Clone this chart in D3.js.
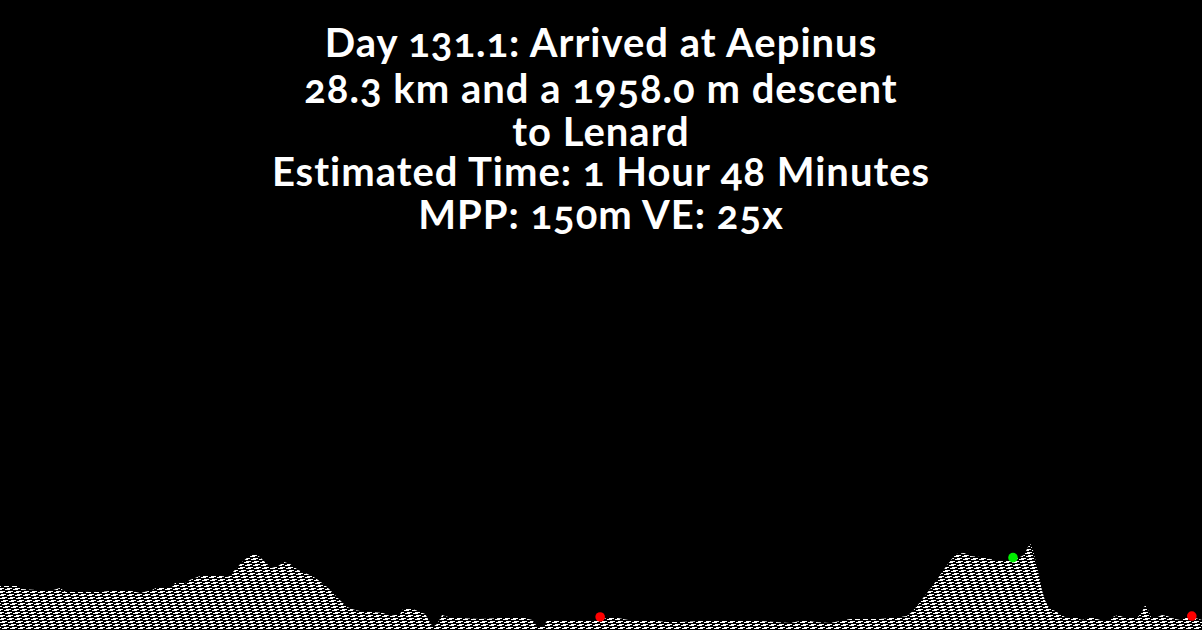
<!DOCTYPE html>
<html>
<head>
<meta charset="utf-8">
<script src="https://cdn.jsdelivr.net/npm/d3@7/dist/d3.min.js"></script>
<style>
  html, body { margin: 0; padding: 0; background: #000; }
  svg { display: block; }
  .title { font-family: "Lato", "Open Sans", sans-serif; font-weight: 700; fill: #fff; font-size: 40px; letter-spacing: 1px; font-feature-settings: "onum" 1; }
</style>
</head>
<body>
<svg id="chart" width="1202" height="630"></svg>
<script>
// ---- data ----
const titleLines = [
  "Day 131.1: Arrived at Aepinus",
  "28.3 km and a 1958.0 m descent",
  "to Lenard",
  "Estimated Time: 1 Hour 48 Minutes",
  "MPP: 150m VE: 25x"
];
const distanceKm = [
  0.00, 0.42, 0.52, 1.18, 1.41, 1.55, 2.35, 2.78, 3.01, 3.30, 3.58, 3.72, 4.05, 4.12, 4.36, 4.47, 4.71,
  5.06, 5.37, 5.53, 5.70, 5.84, 6.00, 6.12, 6.26, 6.40, 6.55, 6.69, 6.83, 7.02, 7.18, 7.35, 7.49, 7.65,
  7.82, 8.00, 8.17, 8.36, 8.59, 8.78, 9.02, 9.18, 9.30, 9.42, 9.49, 9.65, 9.84, 10.01, 10.12, 10.19,
  10.29, 10.41, 10.55, 10.83, 11.30, 11.77, 12.36, 12.53, 12.64, 12.76, 12.90, 13.18, 13.66, 14.08,
  14.41, 14.55, 14.79, 15.07, 15.35, 15.66, 16.01, 16.48, 16.76, 17.19, 17.54, 17.89, 18.25, 18.60,
  18.84, 18.95, 19.19, 19.54, 19.78, 20.01, 20.48, 20.72, 20.95, 21.19, 21.35, 21.47, 21.61, 21.75,
  21.90, 22.04, 22.18, 22.30, 22.41, 22.51, 22.70, 22.84, 23.07, 23.31, 23.54, 23.73, 23.97, 24.11,
  24.18, 24.25, 24.32, 24.39, 24.46, 24.53, 24.60, 24.70, 24.84, 24.96, 25.07, 25.31, 25.47, 25.71,
  25.90, 26.09, 26.20, 26.32, 26.44, 26.60, 26.79, 26.89, 26.96, 27.03, 27.10, 27.26, 27.36, 27.48,
  27.59, 27.78, 27.92, 28.06, 28.30
];
const elevationM = [
  41.9, 41.9, 39.0, 37.1, 40.0, 36.2, 36.2, 38.1, 38.1, 35.2, 38.1, 41.0, 41.0, 44.8, 44.8, 47.6, 51.4,
  52.4, 50.5, 57.1, 64.8, 69.5, 72.4, 69.5, 63.8, 59.0, 61.0, 64.8, 62.9, 57.1, 54.3, 51.4, 47.6, 42.9,
  36.2, 28.6, 21.9, 19.0, 17.1, 17.1, 16.2, 13.3, 14.3, 15.2, 20.0, 21.0, 18.1, 15.2, 7.6, 2.9,
  5.7, 14.3, 12.4, 11.4, 10.5, 11.4, 11.4, 9.5, 3.8, 2.9, 9.5, 9.5, 8.6, 9.5,
  12.4, 11.4, 9.5, 8.6, 9.5, 7.6, 7.6, 8.6, 9.5, 8.6, 8.6, 8.6, 7.6, 6.7,
  8.6, 9.5, 7.6, 6.7, 8.6, 10.5, 10.5, 10.5, 11.4, 12.4, 13.3, 17.1, 23.8, 31.4,
  39.0, 46.7, 55.2, 61.9, 67.6, 72.4, 73.3, 70.5, 69.5, 67.6, 65.7, 66.7, 68.6, 71.4,
  77.1, 82.9, 76.2, 64.8, 52.4, 38.1, 28.6, 21.0, 18.1, 15.2, 12.4, 12.4, 9.5, 12.4,
  9.5, 8.6, 12.4, 14.3, 12.4, 11.4, 12.4, 17.1, 23.8, 19.0, 12.4, 12.4, 14.3, 13.3,
  11.4, 9.5, 11.4, 12.4, 9.5
];
const markerKm    = [14.13, 23.85, 28.06];
const markerElevM = [12.4, 68.9, 13.3];
const markerKind  = ["stop", "current", "stop"];
const totalKm = 28.3;

// ---- drawing ----
const W = 1202, H = 630;
const svg = d3.select("#chart");
svg.append("rect").attr("width", W).attr("height", H).attr("fill", "#000");

// hatch texture: rows of stepped dashes, each row shifted one pixel
const defs = svg.append("defs");
const pat = defs.append("pattern")
  .attr("id", "hatch").attr("patternUnits", "userSpaceOnUse")
  .attr("width", 8).attr("height", 24);
const g = pat.append("g").attr("shape-rendering", "crispEdges");
d3.range(8).forEach(r => {
  [-8, 0, 8].forEach(off => {
    g.append("path")
      .attr("d", `M${3 + r + off},${r * 3}h5v1h-2v1h-5v-1h2z`)
      .attr("fill", "#fff");
  });
});

const x = d3.scaleLinear().domain([0, totalKm]).range([0, W]);
const y = d3.scaleLinear().domain([0, 600]).range([H, 0]);

const profile = distanceKm.map((d, i) => ({ d, e: elevationM[i] }));
const area = d3.area().x(p => x(p.d)).y0(y(0)).y1(p => y(p.e));
svg.append("path").datum(profile).attr("d", area).attr("fill", "url(#hatch)");

const colors = { stop: "#ff0000", current: "#00ee00" };
svg.selectAll("circle.marker").data(markerKm.map((d, i) => ({ d, e: markerElevM[i], k: markerKind[i] })))
  .enter().append("circle").attr("class", "marker")
  .attr("cx", p => x(p.d)).attr("cy", p => y(p.e)).attr("r", 4.8)
  .attr("fill", p => colors[p.k]);

const baselines = [57, 103, 146, 186, 229];
svg.selectAll("text.title").data(titleLines).enter().append("text")
  .attr("class", "title").attr("x", 601).attr("y", (t, i) => baselines[i])
  .attr("text-anchor", "middle").text(t => t);
</script>
</body>
</html>
